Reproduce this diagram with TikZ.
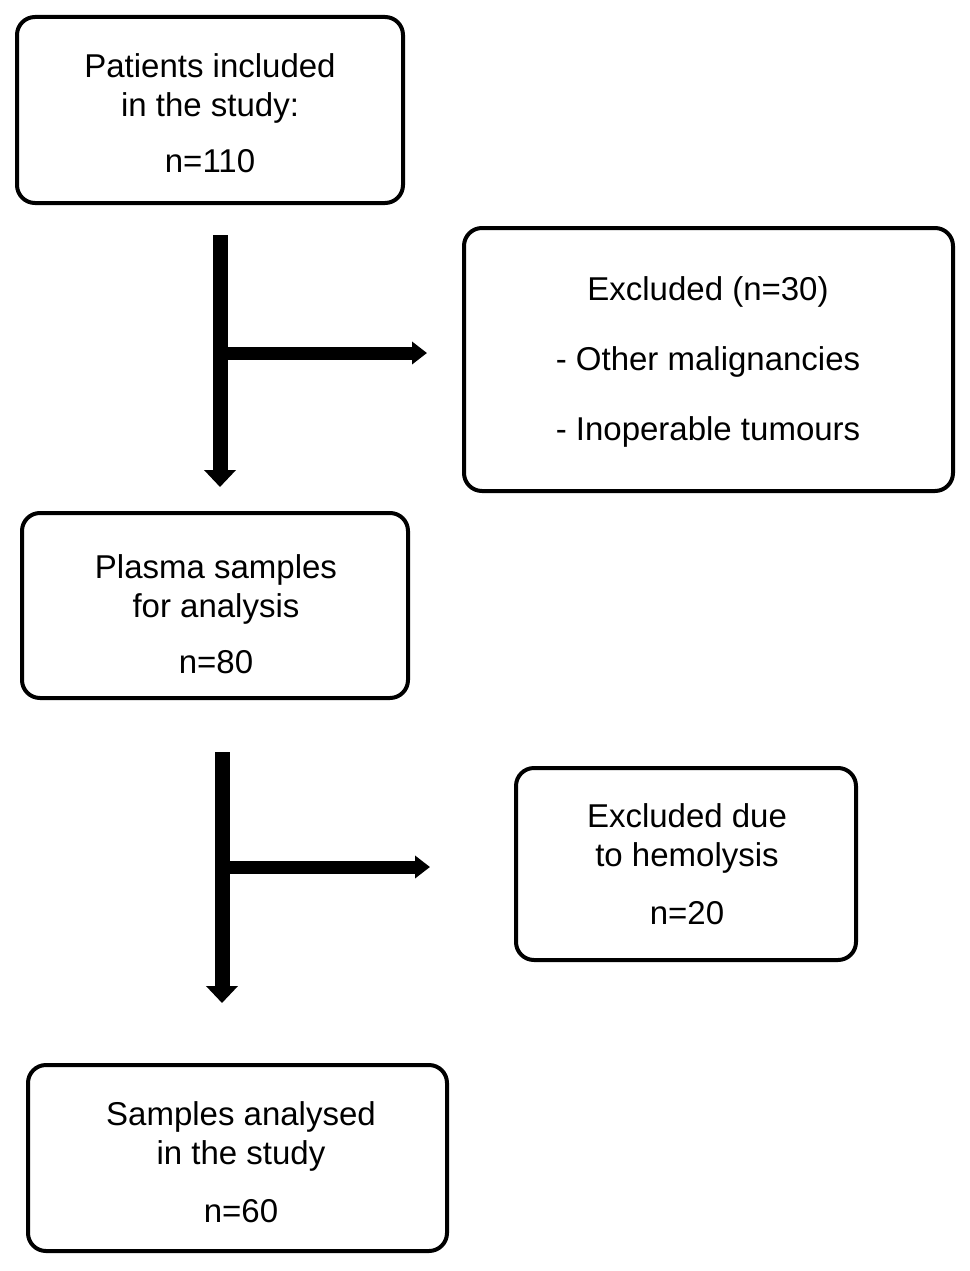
\documentclass[tikz,border=0pt]{standalone}
\usepackage{fontspec}
\setmainfont{Liberation Sans}
\usetikzlibrary{arrows.meta}
\begin{document}
\begin{tikzpicture}[x=1pt,y=-1pt,
  box/.style={draw=black,line width=4pt,rounded corners=18pt,inner sep=0pt},
  txt/.style={align=center,inner sep=0pt,font=\fontsize{33}{39}\selectfont},
  varrow/.style={line width=15pt,-{Triangle[width=31pt,length=17pt]}},
  harrow/.style={line width=13pt,-{Triangle[width=22pt,length=15pt]}}]
\useasboundingbox (0,0) rectangle (969,1271);
\node[box,minimum width=386pt,minimum height=186pt] (b1) at (210,110) {};
\node[txt] (t1) at (210,113) {Patients included\\in the study:\\[17pt]n=110};
\node[box,minimum width=489pt,minimum height=263pt] (b2) at (708.5,359.5) {};
\node[txt] (t2) at (708,361.5) {Excluded (n=30)\\[31pt]- Other malignancies\\[31pt]- Inoperable tumours};
\node[box,minimum width=386pt,minimum height=185pt] (b3) at (215,605.5) {};
\node[txt] (t3) at (216,614.5) {Plasma samples\\for analysis\\[17pt]n=80};
\node[box,minimum width=340pt,minimum height=192pt] (b4) at (686,864) {};
\node[txt] (t4) at (687,864) {Excluded due\\to hemolysis\\[19pt]n=20};
\node[box,minimum width=419pt,minimum height=186pt] (b5) at (237.5,1158) {};
\node[txt] (t5) at (241,1162) {Samples analysed\\in the study\\[19pt]n=60};
\coordinate (v1s) at (220,235);
\coordinate (v1e) at (220,487);
\coordinate (h1s) at (227,353);
\coordinate (h1e) at (427,353);
\coordinate (v2s) at (222,752);
\coordinate (v2e) at (222,1003);
\coordinate (h2s) at (229,867);
\coordinate (h2e) at (430,867);
\draw[varrow] (v1s) -- (v1e);
\draw[harrow] (h1s) -- (h1e);
\draw[varrow] (v2s) -- (v2e);
\draw[harrow] (h2s) -- (h2e);
\end{tikzpicture}
\end{document}
